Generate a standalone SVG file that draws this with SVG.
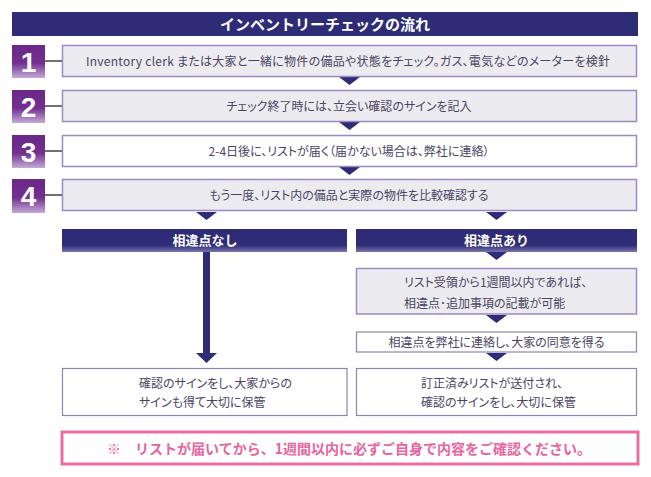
<svg xmlns="http://www.w3.org/2000/svg" width="651" height="477" viewBox="0 0 651 477">
<defs>
<linearGradient id="gNum" x1="0" y1="0" x2="0" y2="1">
<stop offset="0" stop-color="#6a2888"/>
<stop offset="0.55" stop-color="#732f90"/>
<stop offset="1" stop-color="#c4aad6"/>
</linearGradient>
<linearGradient id="gHead" x1="0" y1="0" x2="0" y2="1">
<stop offset="0" stop-color="#2e2b77"/>
<stop offset="0.7" stop-color="#2f2c78"/>
<stop offset="1" stop-color="#7874ad"/>
</linearGradient>
<style>
.step{fill:#ececf0;stroke:#9d89c8;stroke-width:1.5;}
.stepw{fill:#ffffff;stroke:#9d89c8;stroke-width:1.5;}
.box{fill:#ffffff;stroke:#8c86ac;stroke-width:1.2;}
.txt{font-family:"Noto Sans CJK JP","Noto Sans",sans-serif;font-size:12px;fill:#4a4463;text-anchor:middle;font-feature-settings:"palt";}
.lt{text-anchor:start;}
.hd{font-family:"Noto Sans CJK JP","Noto Sans",sans-serif;font-size:13px;font-weight:bold;fill:#ffffff;text-anchor:middle;}
.num{font-family:"Liberation Sans",Arial,sans-serif;font-size:28px;font-weight:bold;fill:#ffffff;text-anchor:middle;}
.arr{fill:#2e2b77;}
.ln{stroke:#111111;stroke-width:1.2;}
</style>
</defs>
<rect width="651" height="477" fill="#ffffff"/>

<g id="title">
<rect x="12" y="12" width="626" height="24" fill="#2e2b77"/>
<text class="hd" x="325" y="29.5" style="font-size:15px">インベントリーチェックの流れ</text>
</g>

<g id="connectors">
<line class="ln" x1="45" y1="61" x2="62" y2="61"/>
<line class="ln" x1="45" y1="106" x2="62" y2="106"/>
<line class="ln" x1="45" y1="151" x2="62" y2="151"/>
<line class="ln" x1="45" y1="195" x2="62" y2="195"/>
<polygon class="arr" points="339,77 360,77 349.5,85"/>
<polygon class="arr" points="339,122 360,122 349.5,130"/>
<polygon class="arr" points="339,167 360,167 349.5,175"/>
<polygon class="arr" points="196,212 217,212 206.5,220"/>
<polygon class="arr" points="486,212 507,212 496.5,220"/>
<rect x="203" y="252" width="7" height="102" fill="#2e2b77"/>
<polygon class="arr" points="196,353 217,353 206.5,363"/>
<polygon class="arr" points="486,252 507,252 496.5,260"/>
<polygon class="arr" points="486,315 507,315 496.5,323"/>
<polygon class="arr" points="486,353 507,353 496.5,361"/>
</g>

<g id="n1"><rect x="12" y="45" width="33" height="33" fill="url(#gNum)"/><text class="num" x="28.5" y="71.5">1</text></g>
<g id="n2"><rect x="12" y="90" width="33" height="33" fill="url(#gNum)"/><text class="num" x="28.5" y="116.5">2</text></g>
<g id="n3"><rect x="12" y="135" width="33" height="33" fill="url(#gNum)"/><text class="num" x="28.5" y="161.5">3</text></g>
<g id="n4"><rect x="12" y="179" width="33" height="34" fill="url(#gNum)"/><text class="num" x="28.5" y="206">4</text></g>

<g id="step1"><rect class="step" x="62.5" y="45.5" width="574" height="31"/><text class="txt" x="348" y="65.5" textLength="524" lengthAdjust="spacing">Inventory clerk または大家と一緒に物件の備品や状態をチェック。ガス、電気などのメーターを検針</text></g>
<g id="step2"><rect class="step" x="62.5" y="90.5" width="574" height="31"/><text class="txt" x="349" y="110.5">チェック終了時には、立会い確認のサインを記入</text></g>
<g id="step3"><rect class="stepw" x="62.5" y="135.5" width="574" height="31"/><text class="txt" x="349" y="155.5">2-4日後に、リストが届く（届かない場合は、弊社に連絡）</text></g>
<g id="step4"><rect class="step" x="62.5" y="179.5" width="574" height="31"/><text class="txt" x="349" y="199.5">もう一度、リスト内の備品と実際の物件を比較確認する</text></g>

<g id="headNo"><rect x="62" y="229" width="285" height="23" fill="url(#gHead)"/><text class="hd" x="205" y="245">相違点なし</text></g>
<g id="headYes"><rect x="356" y="229" width="281" height="23" fill="url(#gHead)"/><text class="hd" x="496.5" y="245">相違点あり</text></g>

<g id="yes1"><rect class="step" x="356.5" y="268.5" width="280" height="45.5"/>
<text class="txt lt" x="404" y="287">リスト受領から1週間以内であれば、</text>
<text class="txt lt" x="404" y="308">相違点･追加事項の記載が可能</text></g>
<g id="yes2"><rect class="box" x="356.5" y="332" width="280" height="20"/><text class="txt" x="496.5" y="346.5">相違点を弊社に連絡し、大家の同意を得る</text></g>

<g id="endNo"><rect class="box" x="62.5" y="368.5" width="284.5" height="47"/>
<text class="txt lt" x="139" y="387.5">確認のサインをし、大家からの</text>
<text class="txt lt" x="139" y="407">サインも得て大切に保管</text></g>
<g id="endYes"><rect class="box" x="356.5" y="368.5" width="280" height="47"/>
<text class="txt lt" x="421" y="387.5">訂正済みリストが送付され、</text>
<text class="txt lt" x="421" y="407">確認のサインをし、大切に保管</text></g>

<g id="note"><rect x="62" y="432" width="576" height="32" fill="#ffffff" stroke="#ea6ea2" stroke-width="3"/>
<text x="349" y="453.5" text-anchor="middle" font-family="Noto Sans CJK JP, Noto Sans, sans-serif" font-size="14" font-weight="bold" fill="#e9649c">※　リストが届いてから、1週間以内に必ずご自身で内容をご確認ください。</text></g>
</svg>
